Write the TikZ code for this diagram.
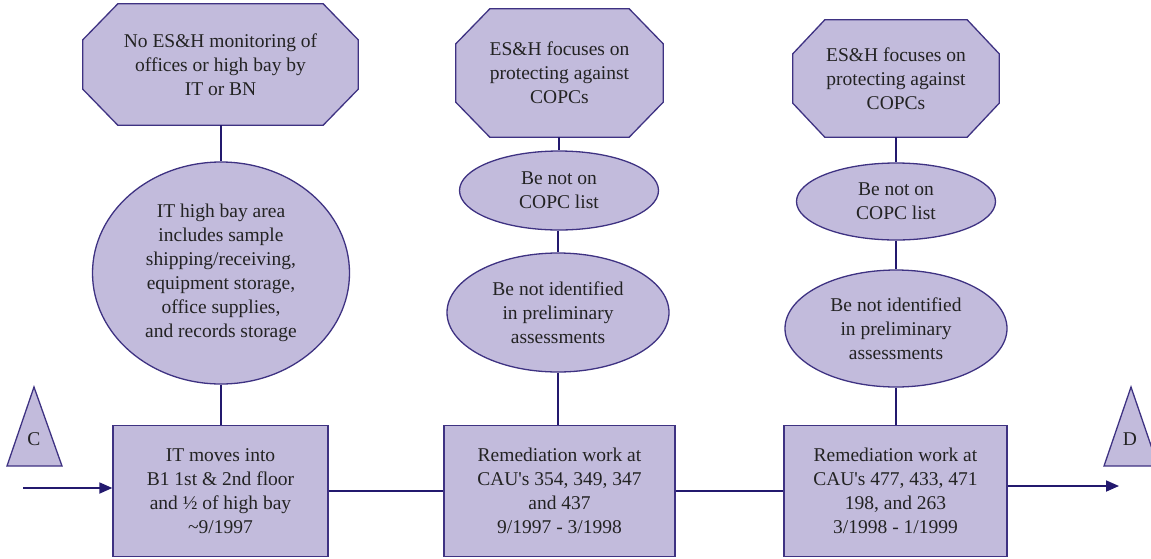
\documentclass[tikz,border=0pt]{standalone}
\usepackage{fontspec}
\setmainfont{Liberation Serif}
\usetikzlibrary{shapes.geometric,arrows.meta,calc,backgrounds}
\definecolor{boxfill}{RGB}{194,187,220}
\definecolor{boxline}{RGB}{62,50,130}
\definecolor{linkline}{RGB}{35,25,110}
\definecolor{txt}{RGB}{35,35,35}
\tikzset{
  x=1pt, y=-1pt,
  base/.style={text=txt, align=center, font=\fontsize{19.5}{24}\selectfont, inner sep=0pt},
  stepbox/.style={base, rectangle, draw=boxline, fill=boxfill, line width=1.3pt},
  bubble/.style={base, ellipse, draw=boxline, fill=boxfill, line width=1.3pt},
  octtext/.style={base, rectangle},
  octline/.style={draw=boxline, fill=boxfill, line width=1.3pt, line join=miter},
  tri/.style={draw=boxline, fill=boxfill, line width=1.3pt, line join=miter},
  link/.style={draw=linkline, line width=1.6pt},
  flow/.style={draw=linkline, line width=1.8pt, -{Triangle[length=13pt,width=11pt]}},
}
\newcommand{\octshape}[3]{% node name, horizontal cut, vertical cut
  \path[octline] ($(#1.north west)+(#2,0)$) -- ($(#1.north east)+(-#2,0)$)
    -- ($(#1.north east)+(0,#3)$) -- ($(#1.south east)+(0,-#3)$)
    -- ($(#1.south east)+(-#2,0)$) -- ($(#1.south west)+(#2,0)$)
    -- ($(#1.south west)+(0,-#3)$) -- ($(#1.north west)+(0,#3)$) -- cycle;}
\begin{document}
\begin{tikzpicture}
\useasboundingbox (0,0) rectangle (1151,558);

% top octagons
\node[octtext, minimum width=275pt, minimum height=121pt] (o1) at (220.5,64.5)
  {No ES\&H monitoring of\\offices or high bay by\\IT or BN};
\node[octtext, minimum width=207pt, minimum height=128pt] (o2) at (559.5,73)
  {ES\&H focuses on\\protecting against\\COPCs};
\node[octtext, minimum width=206pt, minimum height=117pt] (o3) at (896,78.5)
  {ES\&H focuses on\\protecting against\\COPCs};
\begin{pgfonlayer}{background}
  \octshape{o1}{35}{36}
  \octshape{o2}{34}{35}
  \octshape{o3}{32}{34}
\end{pgfonlayer}

% ellipses
\node[bubble, minimum width=257pt, minimum height=222pt] (e1) at (221,273)
  {IT high bay area\\includes sample\\shipping/receiving,\\equipment storage,\\office supplies,\\and records storage};
\node[bubble, minimum width=199pt, minimum height=79pt] (e2a) at (559,190.5)
  {Be not on\\COPC list};
\node[bubble, minimum width=222pt, minimum height=119pt] (e2b) at (558,312.5)
  {Be not identified\\in preliminary\\assessments};
\node[bubble, minimum width=199pt, minimum height=77pt] (e3a) at (896,201.5)
  {Be not on\\COPC list};
\node[bubble, minimum width=222pt, minimum height=117pt] (e3b) at (896,328.5)
  {Be not identified\\in preliminary\\assessments};

% timeline boxes
\node[stepbox, minimum width=215pt, minimum height=131pt] (b1) at (220.5,491)
  {IT moves into\\B1 1st \& 2nd floor\\and \textonehalf{} of high bay\\\textasciitilde 9/1997};
\node[stepbox, minimum width=231pt, minimum height=131pt] (b2) at (559.5,491)
  {Remediation work at\\CAU\textquotesingle s 354, 349, 347\\and 437\\9/1997 - 3/1998};
\node[stepbox, minimum width=223pt, minimum height=131pt] (b3) at (895.5,491)
  {Remediation work at\\CAU\textquotesingle s 477, 433, 471\\198, and 263\\3/1998 - 1/1999};

% off-page connectors
\path[tri] (34,387) -- (62,466) -- (7,466) -- cycle;
\node[base] (tc) at (34,439) {C};
\path[tri] (1131,387) -- (1158,466) -- (1104,466) -- cycle;
\node[base] (td) at (1130,439) {D};

% vertical links
\draw[link] (o1.south -| e1.north) -- (e1.north);
\draw[link] (e1.south) -- (e1.south |- b1.north);
\draw[link] (o2.south -| e2a.north) -- (e2a.north);
\draw[link] (e2a.south -| e2b.north) -- (e2b.north);
\draw[link] (e2b.south) -- (e2b.south |- b2.north);
\draw[link] (o3.south -| e3a.north) -- (e3a.north);
\draw[link] (e3a.south -| e3b.north) -- (e3b.north);
\draw[link] (e3b.south) -- (e3b.south |- b3.north);

% timeline flow
\coordinate (cin) at (23,488);
\coordinate (dout) at (1119,486);
\draw[flow] (cin) -- (cin -| b1.west);
\draw[link, line width=1.8pt] (b1.east) -- (b2.west);
\draw[link, line width=1.8pt] (b2.east) -- (b3.west);
\draw[flow] (b3.east |- dout) -- (dout);
\end{tikzpicture}
\end{document}
